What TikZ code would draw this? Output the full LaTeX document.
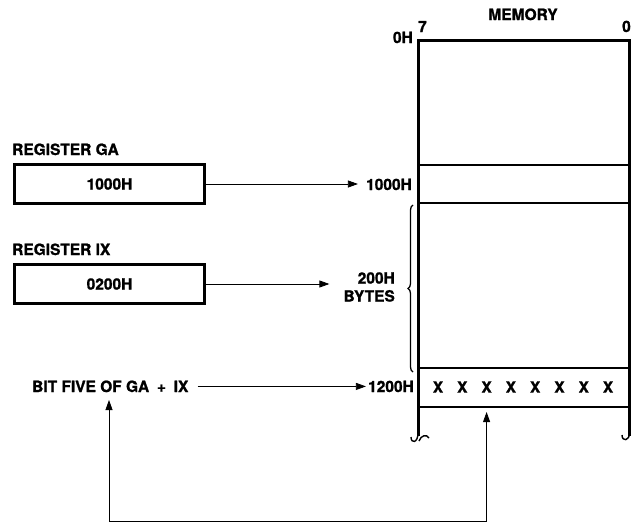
\documentclass[tikz,border=0pt]{standalone}
\usepackage{fontspec}
\setmainfont{TeX Gyre Heros}[BoldFeatures={FakeBold=1.2}]
\usepackage{tikz}
\usetikzlibrary{arrows.meta, positioning, calc, decorations.pathreplacing}

\begin{document}
\begin{tikzpicture}[
    x=1pt, y=-1pt,
    reg/.style={
        rectangle, draw, line width=3pt, minimum width=190pt,
        minimum height=39pt, text centered, font=\fontsize{15.5}{18}\selectfont\bfseries
    },
    txt/.style={inner sep=0pt, font=\fontsize{15.5}{18}\selectfont\bfseries},
    arrow/.style={-{Triangle[length=10pt, width=7pt]}, line width=0.8pt},
    memline/.style={line width=1.6pt},
    hook/.style={line width=1.4pt}
]
    \useasboundingbox (0,0) rectangle (631,522);

    \node[txt, anchor=base west] (GAname) at (12,155) {REGISTER GA};
    \node[reg] (GA) at (109.5,184) {1000H};
    \node[txt, anchor=base west] (IXname) at (12,255) {REGISTER IX};
    \node[reg] (IX) at (109.5,284) {0200H};
    \node[txt, anchor=base west] (BIT) at (32,392) {BIT FIVE OF GA\enspace+\enspace IX};

    \node[txt, anchor=base] (MEM) at (523,20) {MEMORY};
    \node[txt, anchor=base west] (B7) at (418,32) {7};
    \node[txt, anchor=base east] (B0) at (631,32) {0};
    \node[txt, anchor=base east] (A0) at (413,43) {0H};
    \node[txt, anchor=base east] (A1000) at (412,190) {1000H};
    \node[txt, anchor=base east] (A1200) at (414,392) {1200H};
    \node[txt, align=right, anchor=east] (BYTES) at (395,287) {200H\\BYTES};

    \draw[line width=3pt] (418,436) -- (418,40) -- (629.5,40) -- (629.5,436);
    \foreach \y in {165, 203, 368, 407} {
        \draw[memline] (418,\y) -- (629.5,\y);
    }
    \foreach \b in {7,...,0} {
        \node[txt] (X\b) at ({438+(7-\b)*24.29},387) {X};
    }
    \draw[hook] (418,433) .. controls (418,443) and (411,444) .. (411,437);
    \draw[hook] (419,441) .. controls (421,435) and (427,434) .. (429,438);
    \draw[hook] (629.5,433) .. controls (629.5,441) and (622,442) .. (622,435);

    \draw[decorate, decoration={brace, amplitude=5pt}, line width=1.3pt] (413,372) -- (413,205);

    \draw[arrow, shorten >=8pt] (GA.east) -- (GA.east -| A1000.west);
    \draw[arrow, shorten >=14pt] (IX.east) -- (IX.east -| BYTES.west);
    \draw[arrow, shorten <=9pt, shorten >=2pt] (BIT.east |- A1200.west) -- (A1200.west);

    \coordinate (rowfive) at (X5.south |- 0,412);
    \coordinate (bitfive) at (109,400);
    \draw[arrow, {Triangle[length=10pt, width=7pt]}-{Triangle[length=10pt, width=7pt]}]
        (rowfive) -- ++(0,109) -| (bitfive);
\end{tikzpicture}
\end{document}
